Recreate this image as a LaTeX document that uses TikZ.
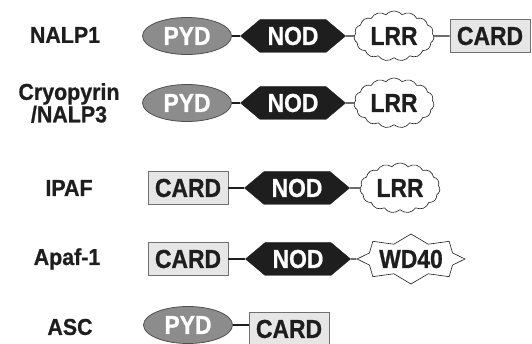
\documentclass[tikz,border=0pt]{standalone}
\usepackage{fontspec}
\setmainfont{Liberation Sans}
\newfontfamily\labfont{Liberation Sans}[FakeStretch=0.93, BoldFeatures={FakeBold=0.8}]
\newfontfamily\domfont{Liberation Sans}[FakeStretch=0.88, BoldFeatures={FakeBold=0.8}]
\usetikzlibrary{shapes.geometric,shapes.symbols}
\definecolor{pydfill}{HTML}{8C8C8C}
\definecolor{pyddraw}{HTML}{505050}
\definecolor{cardfill}{HTML}{E6E6E6}
\definecolor{carddraw}{HTML}{707070}
\definecolor{ink}{HTML}{1E1E1E}
\tikzset{
  lab/.style={font=\labfont\fontsize{23}{21}\selectfont\bfseries, text=ink, align=center, inner sep=0pt},
  dom/.style={font=\domfont\fontsize{26}{26}\selectfont\bfseries, inner sep=0pt},
  pyd/.style={dom, ellipse, fill=pydfill, draw=pyddraw, line width=0.8pt, text=white, minimum width=89pt, minimum height=37pt},
  nod/.style={dom, signal, signal to=east and west, signal pointer angle=80, fill=ink, draw=ink, text=white, minimum width=105pt, minimum height=33pt},
  lrr/.style={dom, cloud, cloud puffs=15, cloud puff arc=100, aspect=1.6, draw=ink, fill=white, text=ink, line width=0.6pt, minimum width=80pt, minimum height=50pt},
  card/.style={dom, rectangle, fill=cardfill, draw=carddraw, text=ink, line width=0.9pt, minimum width=80pt, minimum height=33pt},
  wd/.style={dom, starburst, starburst points=8, starburst point height=9pt, random starburst=0, draw=ink, fill=white, text=ink, line width=0.6pt, minimum width=98pt, minimum height=50pt},
  link/.style={line width=1.3pt, draw=ink}
}
\begin{document}
\begin{tikzpicture}[x=1pt,y=-1pt]
\useasboundingbox (0,0) rectangle (532,344);
% labels
\node[lab] (l1) at (65,35) {NALP1};
\node[lab] (l2) at (69,103) {Cryopyrin\\/NALP3};
\node[lab] (l3) at (69,188) {IPAF};
\node[lab] (l4) at (67,259) {Apaf-1};
\node[lab] (l5) at (70,327) {ASC};
% row 1
\node[pyd] (p1) at (187,36) {PYD};
\node[nod] (n1) at (293,36) {NOD};
\node[lrr] (r1) at (394,36) {LRR};
\node[card] (c1) at (490,36) {CARD};
\draw[link] (p1) -- (n1);
\draw[link] (n1) -- (r1);
\draw[link] (r1) -- (c1);
% row 2
\node[pyd] (p2) at (187,103) {PYD};
\node[nod] (n2) at (293,103) {NOD};
\node[lrr] (r2) at (394,103) {LRR};
\draw[link] (p2) -- (n2);
\draw[link] (n2) -- (r2);
% row 3
\node[card] (c3) at (188,188) {CARD};
\node[nod] (n3) at (297,188) {NOD};
\node[lrr] (r3) at (400,188) {LRR};
\draw[link] (c3) -- (n3);
\draw[link] (n3) -- (r3);
% row 4
\node[card] (c4) at (188,259) {CARD};
\node[nod] (n4) at (298,259) {NOD};
\node[wd] (w4) at (411,259) {WD40};
\draw[link] (c4) -- (n4);
\draw[link] (n4) -- (w4);
% row 5
\node[pyd] (p5) at (188,325) {PYD};
\node[card] (c5) at (289,329) {CARD};
\draw[link] (p5.east) -- (c5.west |- p5.east);
\end{tikzpicture}
\end{document}
